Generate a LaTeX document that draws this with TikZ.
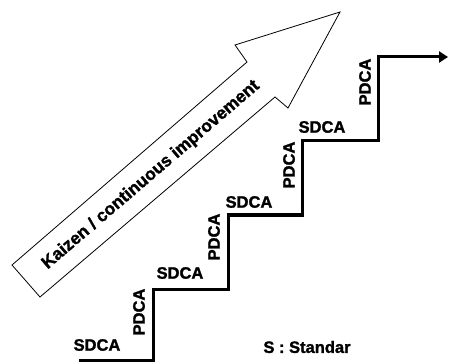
\documentclass[tikz,border=0pt]{standalone}
\usepackage{fontspec}
\setmainfont{Liberation Sans}[BoldFeatures={FakeBold=1.5}]
\usetikzlibrary{arrows.meta}
\begin{document}
\begin{tikzpicture}[x=1pt,y=-1pt,
  lbl/.style={font=\fontsize{16.5}{16.5}\selectfont\bfseries, inner sep=0pt},
  vlbl/.style={lbl, rotate=90},
  stair/.style={line width=3pt, line join=miter},
  bigarrow/.style={draw, line width=0.8pt, line join=miter, fill=white}]
\useasboundingbox (0,0) rectangle (449,363);
% big hollow arrow
\draw[bigarrow] (12,265) -- (247,62) -- (235,45) -- (340,12) -- (288,108) -- (275,97) -- (40,297) -- cycle;
\node[lbl, rotate=40.6, font=\fontsize{17.5}{17.5}\selectfont\bfseries] (kaizen) at (151,175) {Kaizen / continuous improvement};
% staircase
\coordinate (s0) at (79,360);
\coordinate (s1) at (153,360);
\coordinate (s2) at (153,289);
\coordinate (s3) at (228,289);
\coordinate (s4) at (228,215);
\coordinate (s5) at (302,215);
\coordinate (s6) at (302,141);
\coordinate (s7) at (378,141);
\coordinate (s8) at (378,57);
\coordinate (s9) at (448,57);
\draw[stair, -{Triangle[length=9pt,width=11pt]}] (s0) -- (s1) -- (s2) -- (s3) -- (s4) -- (s5) -- (s6) -- (s7) -- (s8) -- (s9);
% labels
\node[lbl] (sd1) at (97,345) {SDCA};
\node[vlbl] (pd1) at (139,312) {PDCA};
\node[lbl] (sd2) at (180,273) {SDCA};
\node[vlbl] (pd2) at (214,237) {PDCA};
\node[lbl] (sd3) at (249,202) {SDCA};
\node[vlbl] (pd3) at (289,165) {PDCA};
\node[lbl] (sd4) at (322,127) {SDCA};
\node[vlbl] (pd4) at (365,82) {PDCA};
\node[lbl] (legend) at (307,347) {S : Standar};
\end{tikzpicture}
\end{document}
